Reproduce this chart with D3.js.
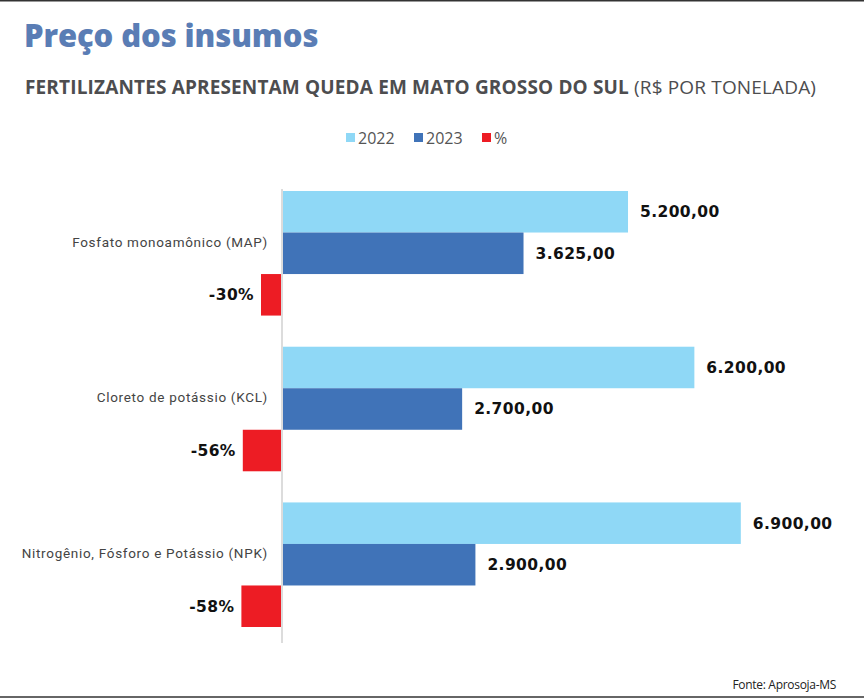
<!DOCTYPE html>
<html><head><meta charset="utf-8">
<script src="https://cdn.jsdelivr.net/npm/d3@7"></script>
<style>
html,body{margin:0;padding:0;background:#fff;}
svg{display:block;}
</style></head>
<body>
<script>
const categories = ["Fosfato monoamônico  (MAP)", "Cloreto de potássio (KCL)", "Nitrogênio, Fósforo e Potássio (NPK)"];
const values2022 = [5200, 6200, 6900];
const values2023 = [3625, 2700, 2900];
const percentChange = [-30, -56, -58];
const legendLabels = ["2022", "2023", "%"];
const valueLabels2022 = ["5.200,00", "6.200,00", "6.900,00"];
const valueLabels2023 = ["3.625,00", "2.700,00", "2.900,00"];
const percentLabels = ["-30%", "-56%", "-58%"];

const W = 864, H = 699;
const colors = {"2022": "#8fd8f6", "2023": "#4073b8", "%": "#ed1c24"};

const svg = d3.select("body").append("svg").attr("width", W).attr("height", H);

// frame lines
svg.append("line").attr("x1",0).attr("x2",W).attr("y1",0.75).attr("y2",0.75).attr("stroke","#333").attr("stroke-width",1.5);
svg.append("line").attr("x1",0).attr("x2",W).attr("y1",697).attr("y2",697).attr("stroke","#333").attr("stroke-width",1.5);

// title
svg.append("text").attr("x",24).attr("y",47)
  .attr("font-family","'Open Sans', sans-serif").attr("font-weight",800).attr("font-size",31)
  .attr("letter-spacing",-0.1).attr("fill","#5a7db5").text("Preço dos insumos");

const sub = svg.append("text").attr("x",25).attr("y",94)
  .attr("font-family","'Open Sans', sans-serif").attr("font-size",19).attr("letter-spacing",0.15).attr("fill","#4d4d4f");
sub.append("tspan").attr("font-weight",700).text("FERTILIZANTES APRESENTAM QUEDA EM MATO GROSSO DO SUL ");
sub.append("tspan").attr("font-weight",400).text("(R$ POR TONELADA)");

// legend
const legX = [346, 414, 482];
const leg = svg.append("g");
legendLabels.forEach((k,i)=>{
  leg.append("rect").attr("x",legX[i]).attr("y",133).attr("width",9).attr("height",9).attr("fill",colors[k]);
  leg.append("text").attr("x",legX[i]+12).attr("y",144)
    .attr("font-family","'Open Sans', sans-serif").attr("font-size",16).attr("fill","#555").text(k);
});

// scales
const x0 = 283;
const x = d3.scaleLinear().domain([0, 7000]).range([x0, x0 + 0.06635*7000]);
const xp = d3.scaleLinear().domain([0, 60]).range([0, 42]);
const y = d3.scaleBand().domain(categories).range([191, 627]).paddingInner(0.2).paddingOuter(0);
const ySub = d3.scaleBand().domain(legendLabels).range([0, y.bandwidth()]).padding(0);

const data = categories.map((c,i)=>({c, v22: values2022[i], v23: values2023[i], p: percentChange[i],
  l22: valueLabels2022[i], l23: valueLabels2023[i], lp: percentLabels[i]}));

const g = svg.append("g");
const groups = g.selectAll("g.grp").data(data).join("g").attr("class","grp")
  .attr("transform", d=>`translate(0,${y(d.c)})`);

groups.append("rect").attr("x", x(0)).attr("y", ySub("2022")).attr("width", d=>x(d.v22)-x(0))
  .attr("height", ySub.bandwidth()).attr("fill", colors["2022"]);
groups.append("rect").attr("x", x(0)).attr("y", ySub("2023")).attr("width", d=>x(d.v23)-x(0))
  .attr("height", ySub.bandwidth()).attr("fill", colors["2023"]);
groups.append("rect").attr("x", d=>x(0)-1-xp(-d.p)).attr("y", ySub("%")).attr("width", d=>xp(-d.p))
  .attr("height", ySub.bandwidth()).attr("fill", colors["%"]);

const valFont = "'DejaVu Sans', Verdana, sans-serif";
const valSize = 15.5, valLS = 0.4;
groups.append("text").attr("x", d=>x(d.v22)+12).attr("y", ySub("2022")+ySub.bandwidth()/2+5.5)
  .attr("font-family",valFont).attr("font-weight",700).attr("font-size",valSize).attr("letter-spacing",valLS).attr("fill","#111").text(d=>d.l22);
groups.append("text").attr("x", d=>x(d.v23)+12).attr("y", ySub("2023")+ySub.bandwidth()/2+5.5)
  .attr("font-family",valFont).attr("font-weight",700).attr("font-size",valSize).attr("letter-spacing",valLS).attr("fill","#111").text(d=>d.l23);
groups.append("text").attr("x", d=>x(0)-1-xp(-d.p)-7).attr("y", ySub("%")+ySub.bandwidth()/2+5.5)
  .attr("text-anchor","end")
  .attr("font-family",valFont).attr("font-weight",700).attr("font-size",valSize).attr("letter-spacing",valLS).attr("fill","#111").text(d=>d.lp);

// category labels
groups.append("text").attr("x", 268).attr("y", ySub("2023")+14)
  .attr("text-anchor","end").attr("font-family","Roboto, sans-serif").attr("font-size",13.5)
  .attr("letter-spacing",0.7).attr("fill","#444").text(d=>d.c);

// axis line
svg.append("line").attr("x1",x0-1).attr("x2",x0-1).attr("y1",189).attr("y2",643)
  .attr("stroke","#dcdcdc").attr("stroke-width",2);

// source
svg.append("text").attr("x",836).attr("y",689).attr("text-anchor","end")
  .attr("font-family","'Open Sans', sans-serif").attr("font-size",12).attr("letter-spacing",-0.3).attr("fill","#222").text("Fonte: Aprosoja-MS");
</script>
</body></html>
